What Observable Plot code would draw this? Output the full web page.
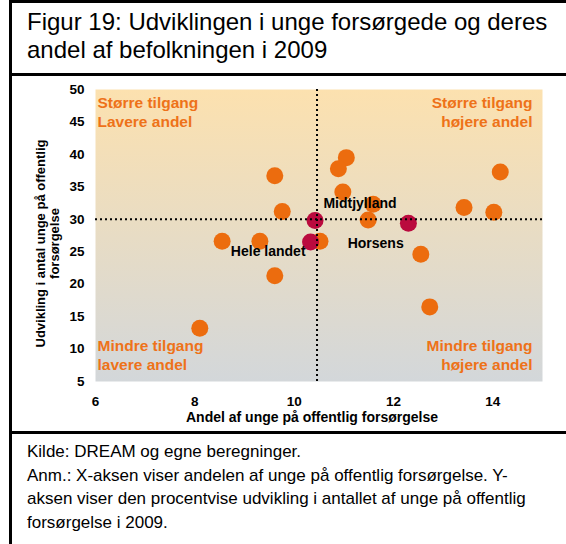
<!DOCTYPE html>
<html>
<head>
<meta charset="utf-8">
<script src="https://cdn.jsdelivr.net/npm/d3@7"></script>
<script src="https://cdn.jsdelivr.net/npm/@observablehq/plot@0.6"></script>
<style>
  body { margin: 0; background: #fff; }
  #wrap { position: relative; width: 566px; height: 544px; overflow: hidden; background: #fff;
          font-family: "Liberation Sans Narrow", "Arial Narrow", "Liberation Sans", Arial, sans-serif; color: #000; }
  .bar { position: absolute; background: #000; }
  #title { position: absolute; left: 27px; top: 8px; font-size: 24px; line-height: 28px; white-space: nowrap; }
  #chart { position: absolute; left: 0; top: 76px; }
  #cap { position: absolute; left: 27px; top: 440px; font-size: 17px; line-height: 23.5px; white-space: nowrap; }
</style>
</head>
<body>
<div id="wrap">
  <div class="bar" style="left:9px;top:0;width:3px;height:544px"></div>
  <div class="bar" style="left:9px;top:0;width:557px;height:3px"></div>
  <div class="bar" style="left:9px;top:73px;width:557px;height:3px"></div>
  <div class="bar" style="left:9px;top:431px;width:557px;height:3px"></div>
  <div id="title">Figur 19: Udviklingen i unge forsørgede og deres<br>andel af befolkningen i 2009</div>
  <div id="chart"></div>
  <div id="cap">Kilde: DREAM og egne beregninger.<br>Anm.: X-aksen viser andelen af unge på offentlig forsørgelse. Y-<br>aksen viser den procentvise udvikling i antallet af unge på offentlig<br>forsørgelse i 2009.</div>
</div>
<script>
// ---- data ----
const regionShare = [9.61, 9.76, 8.55, 9.31, 10.52, 9.61, 11.05, 10.89, 10.98, 11.59, 11.49, 14.15, 13.42, 14.02, 12.55, 8.10, 12.73];
const regionGrowth = [36.7, 31.2, 26.6, 26.6, 26.6, 21.3, 39.5, 37.8, 34.2, 32.3, 29.9, 37.3, 31.8, 31.1, 24.6, 13.2, 16.5];
const highlightNames = ["Midtjylland", "Hele landet", "Horsens"];
const highlightShare = [10.42, 10.33, 12.30];
const highlightGrowth = [29.8, 26.5, 29.4];
const refShare = [10.46];
const refGrowth = [30];
const xTicks = [6, 8, 10, 12, 14];
const yTicks = [5, 10, 15, 20, 25, 30, 35, 40, 45, 50];
const quadrantTopLeft = ["Større tilgang\nLavere andel"];
const quadrantTopRight = ["Større tilgang\nhøjere andel"];
const quadrantBottomLeft = ["Mindre tilgang\nlavere andel"];
const quadrantBottomRight = ["Mindre tilgang\nhøjere andel"];
const xLabel = ["Andel af unge på offentlig forsørgelse"];
const yLabel = ["Udvikling i antal unge på offentlig\nforsørgelse"];

const regions = regionShare.map((x, i) => ({x, y: regionGrowth[i]}));
const highlights = highlightNames.map((name, i) => ({name, x: highlightShare[i], y: highlightGrowth[i]}));
const byName = n => highlights.filter(d => d.name === n);

const orange = "#EC6C0E";
const crimson = "#BA0A3E";
const labelOrange = "#EE7219";
const qFont = {fill: labelOrange, fontWeight: "bold", fontSize: 15.5, lineHeight: 1.23};

const plot = Plot.plot({
  width: 566,
  height: 356,
  marginTop: 13,
  marginBottom: 51,
  marginLeft: 95,
  marginRight: 24,
  style: {fontFamily: "'Liberation Sans', Arial, sans-serif", fontWeight: "bold", fontSize: "13.5px", color: "#000", background: "transparent", overflow: "visible"},
  x: {domain: [6, 15], ticks: xTicks, tickSize: 0, tickPadding: 15, label: null},
  y: {domain: [5, 50], ticks: yTicks, tickSize: 0, tickPadding: 11, label: null},
  marks: [
    Plot.frame({fill: "url(#bgGrad)", stroke: "none"}),
    Plot.dot(regions, {x: "x", y: "y", r: 8.5, fill: orange, stroke: "none"}),
    Plot.dot(highlights, {x: "x", y: "y", r: 8.5, fill: crimson, stroke: "none"}),
    Plot.ruleY(refGrowth, {stroke: "#000", strokeWidth: 2, strokeDasharray: "2,3"}),
    Plot.ruleX(refShare, {stroke: "#000", strokeWidth: 2, strokeDasharray: "2,3"}),
    Plot.text(byName("Midtjylland"), {x: "x", y: "y", text: "name", textAnchor: "start", lineAnchor: "bottom", dx: 8.4, dy: -12.3, fontSize: 14, fontWeight: "bold", fill: "#000"}),
    Plot.text(byName("Hele landet"), {x: "x", y: "y", text: "name", textAnchor: "end", lineAnchor: "bottom", dx: -5, dy: 14, fontSize: 14, fontWeight: "bold", fill: "#000"}),
    Plot.text(byName("Horsens"), {x: "x", y: "y", text: "name", textAnchor: "end", lineAnchor: "bottom", dx: -4.7, dy: 24.6, fontSize: 14, fontWeight: "bold", fill: "#000"}),
    Plot.text(quadrantTopLeft, {text: d => d, frameAnchor: "top-left", textAnchor: "start", lineAnchor: "top", dx: 2, dy: 4.5, ...qFont}),
    Plot.text(quadrantTopRight, {text: d => d, frameAnchor: "top-right", textAnchor: "end", lineAnchor: "top", dx: -10, dy: 4.5, ...qFont}),
    Plot.text(quadrantBottomLeft, {text: d => d, frameAnchor: "bottom-left", textAnchor: "start", lineAnchor: "bottom", dx: 2, dy: -11.7, ...qFont}),
    Plot.text(quadrantBottomRight, {text: d => d, frameAnchor: "bottom-right", textAnchor: "end", lineAnchor: "bottom", dx: -10, dy: -11.7, ...qFont}),
    Plot.text(xLabel, {text: d => d, frameAnchor: "bottom", textAnchor: "middle", lineAnchor: "bottom", dx: -7, dy: 40, fontSize: 14, fontWeight: "bold", fill: "#000"}),
    Plot.text(yLabel, {text: d => d, frameAnchor: "left", textAnchor: "middle", lineAnchor: "middle", rotate: -90, dx: -48, dy: 8, fontSize: 13, lineHeight: 1.1, fontWeight: "bold", fill: "#000"})
  ]
});

const svg = d3.select(plot);
const defs = svg.insert("defs", ":first-child");
const grad = defs.append("linearGradient").attr("id", "bgGrad").attr("x1", 0).attr("y1", 0).attr("x2", 0).attr("y2", 1);
grad.append("stop").attr("offset", "0%").attr("stop-color", "#FCE1AF");
grad.append("stop").attr("offset", "100%").attr("stop-color", "#D3D7DA");

document.getElementById("chart").appendChild(plot);
</script>
</body>
</html>
